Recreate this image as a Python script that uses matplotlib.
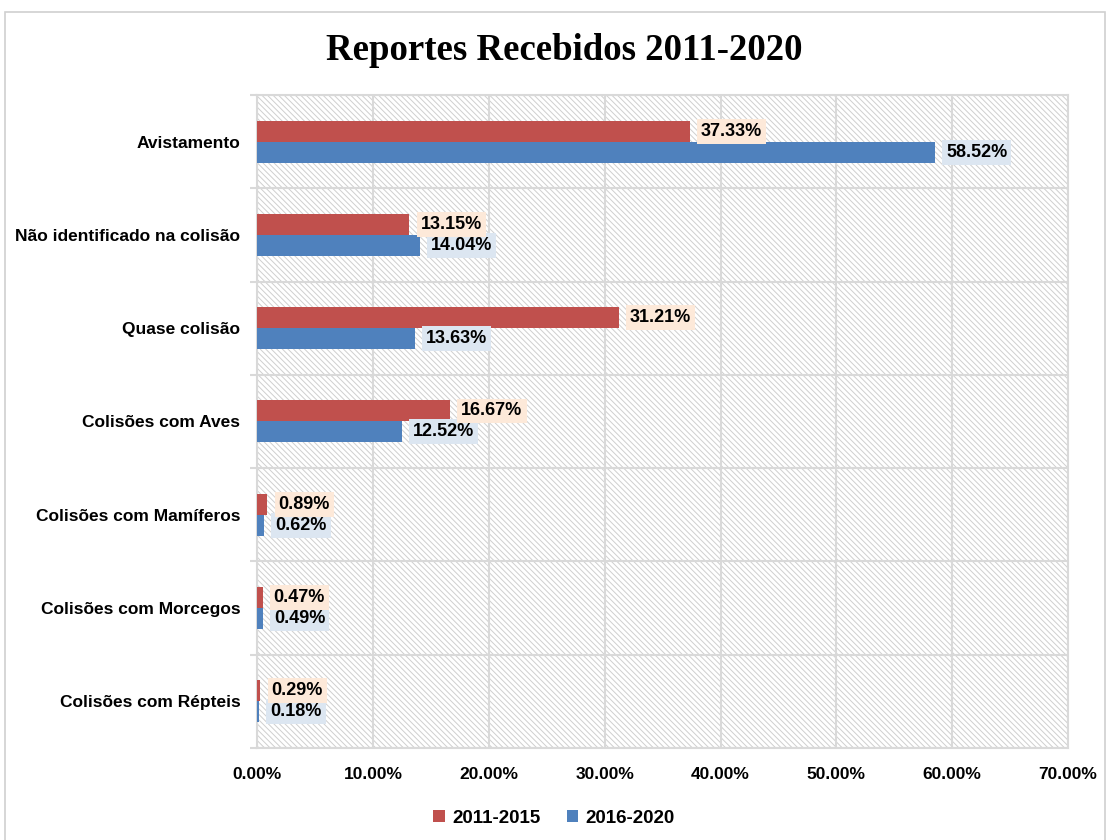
import numpy as np
import matplotlib
matplotlib.use('Agg')
import matplotlib.pyplot as plt
from matplotlib.patches import Rectangle
from matplotlib.ticker import FuncFormatter, MultipleLocator

categories = ['Avistamento', 'Não identificado na colisão', 'Quase colisão',
              'Colisões com Aves', 'Colisões com Mamíferos',
              'Colisões com Morcegos', 'Colisões com Répteis']
vals_2011_2015 = [37.33, 13.15, 31.21, 16.67, 0.89, 0.47, 0.29]
vals_2016_2020 = [58.52, 14.04, 13.63, 12.52, 0.62, 0.49, 0.18]
series_names = ['2011-2015', '2016-2020']

red = '#c0504d'
blue = '#4f81bd'
grid_col = '#d9d9d9'

plt.rcParams['font.family'] = ['Liberation Sans', 'DejaVu Sans']
plt.rcParams['hatch.linewidth'] = 0.7

fig = plt.figure(figsize=(11.08, 8.4), dpi=100)
ax = fig.add_axes([0.232, 0.1095, 0.732, 0.7775])

# outer chart border
fig.patches.append(Rectangle((5 / 1108, -0.01), 1100 / 1108, 1 - 12 / 840 + 0.01,
                             transform=fig.transFigure, fill=False,
                             edgecolor='#d0d0d0', linewidth=1.2))

# hatched plot area
ax.add_patch(Rectangle((0, 0), 1, 1, transform=ax.transAxes, fill=False,
                       hatch='\\\\\\\\\\\\', edgecolor='#cfcfcf', linewidth=0, zorder=0))

y = np.arange(len(categories))
h = 0.225
ax.barh(y - h / 2, vals_2011_2015, height=h, color=red, label=series_names[0], zorder=3)
ax.barh(y + h / 2, vals_2016_2020, height=h, color=blue, label=series_names[1], zorder=3)

for yi, v in zip(y - h / 2, vals_2011_2015):
    ax.annotate(f'{v:.2f}%', (v, yi), xytext=(8, 0), textcoords='offset points',
                va='center', ha='left', fontsize=13, fontweight='bold',
                bbox=dict(boxstyle='square,pad=0.22', fc='#fde9d9', ec='none'), zorder=5)
for yi, v in zip(y + h / 2, vals_2016_2020):
    ax.annotate(f'{v:.2f}%', (v, yi), xytext=(8, 0), textcoords='offset points',
                va='center', ha='left', fontsize=13, fontweight='bold',
                bbox=dict(boxstyle='square,pad=0.22', fc='#dce6f1', ec='none'), zorder=4)

ax.set_xlim(0, 70)
ax.set_ylim(len(categories) - 0.5, -0.5)
ax.xaxis.set_major_locator(MultipleLocator(10))
ax.xaxis.set_major_formatter(FuncFormatter(lambda x, p: f'{x:.2f}%'))
ax.set_yticks(y)
ax.set_yticklabels(categories)
ax.set_yticks(np.arange(-0.5, len(categories)), minor=True)

ax.grid(axis='x', which='major', color=grid_col, linewidth=1.5, zorder=1)
ax.grid(axis='y', which='minor', color=grid_col, linewidth=1.5, zorder=1)
ax.set_axisbelow(True)

for s in ax.spines.values():
    s.set_color(grid_col)
    s.set_linewidth(1.5)

ax.tick_params(axis='y', which='major', length=0, pad=12, labelsize=12.5)
ax.tick_params(axis='y', which='minor', length=5, color=grid_col, width=1.5)
ax.tick_params(axis='x', length=0, pad=14, labelsize=12.5)
for lab in ax.get_xticklabels() + ax.get_yticklabels():
    lab.set_fontweight('bold')

fig.text(0.509, 0.94, 'Reportes Recebidos 2011-2020', ha='center', va='center',
         fontsize=26.5, fontweight='bold', family=['Liberation Serif', 'DejaVu Serif'])

leg = fig.legend(loc='center', bbox_to_anchor=(0.5, 0.026), ncol=2, frameon=False,
                 handlelength=0.6, handleheight=0.6, handletextpad=0.4,
                 columnspacing=1.4, prop={'weight': 'bold', 'size': 13.5})

fig.savefig('out.png', dpi=100)
